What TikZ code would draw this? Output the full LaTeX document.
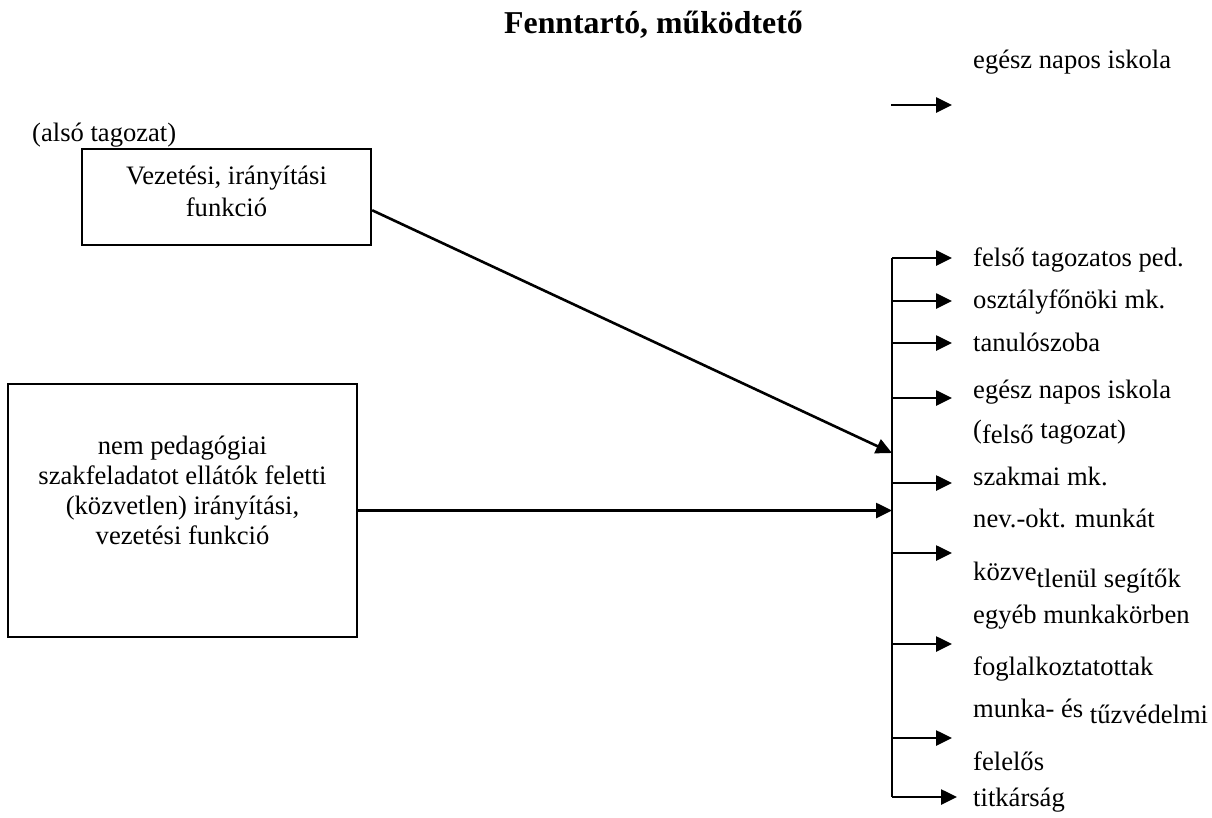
\documentclass[tikz,border=0pt]{standalone}
\usepackage{fontspec}
\setmainfont{Liberation Serif}
\usetikzlibrary{arrows.meta,calc}
\begin{document}
\begin{tikzpicture}[x=1pt,y=-1pt,
  every node/.style={font=\fontsize{26.6}{31}\selectfont, inner sep=0pt},
  box/.style={draw, line width=2.4pt},
  conn/.style={line width=2.6pt},
  arr/.style={conn, -{Triangle[length=16pt,width=15pt]}},
  lbl/.style={anchor=base west}]
\useasboundingbox (0,0) rectangle (1212,817);

% title
\node[anchor=base, font=\fontsize{31.8}{36}\selectfont\bfseries] (title) at (653.5,33) {Fenntartó, működtető};

% top label and free arrow
\node[lbl] (top) at (973,68) {egész napos iskola};
\coordinate (ta) at (891,105);
\coordinate (tb) at (952,105);
\draw[arr] (ta) -- (tb);

% left boxes
\node[lbl] (also) at (32,141) {(alsó tagozat)};
\node[box, minimum width=289pt, minimum height=96pt] (b1) at (226.5,197) {};
\node[align=center, font=\fontsize{26.6}{32}\selectfont] (b1t) at (226.5,191) {Vezetési, irányítási\\funkció};

\node[box, minimum width=349pt, minimum height=253pt] (b2) at (182.5,510.5) {};
\node[align=center, font=\fontsize{26.6}{30}\selectfont] (b2t) at (182.5,490) {nem pedagógiai\\szakfeladatot ellátók feletti\\(közvetlen) irányítási,\\vezetési funkció};

% bus
\coordinate (bt) at (892,258);
\coordinate (bb) at (892,797);
\draw[conn] (bt) -- (bb);

% incoming connectors
\coordinate (j1) at (892,453);
\draw[arr] ($(b1.north east)!0.635!(b1.south east)$) -- (j1);
\draw[arr] (b2.east) -- (b2.east -| bt);

% branches
\foreach \y [count=\i] in {258,301,343,398,483,553,644,738}{
  \coordinate (s\i) at (892,\y);
  \coordinate (e\i) at (952,\y);
  \draw[arr] (s\i) -- (e\i);
}
\coordinate (e9) at (957,797);
\draw[arr] (bb) -- (e9);

% labels
\node[lbl] (l1) at (973,266) {felső tagozatos ped.};
\node[lbl] (l2) at (973,308) {osztályfőnöki mk.};
\node[lbl] (l3) at (973,351) {tanulószoba};
\node[lbl] (l4) at (973,398) {egész napos iskola};
\node[lbl] (l5) at (973,438) {(\raisebox{-5pt}{felső} tagozat)};
\node[lbl] (l6) at (973,485) {szakmai mk.};
\node[lbl] (l7) at (973,527) {nev.-okt. munkát};
\node[lbl] (l8) at (973,580) {közve\raisebox{-7pt}{tlenül segítők}};
\node[lbl] (l9) at (973,623) {egyéb munkakörben};
\node[lbl] (l10) at (973,675) {foglalkoztatottak};
\node[lbl] (l11) at (973,717) {munka- és \raisebox{-6pt}{tűzvédelmi}};
\node[lbl] (l12) at (973,770) {felelős};
\node[lbl] (l13) at (973,806) {titkárság};
\end{tikzpicture}
\end{document}
